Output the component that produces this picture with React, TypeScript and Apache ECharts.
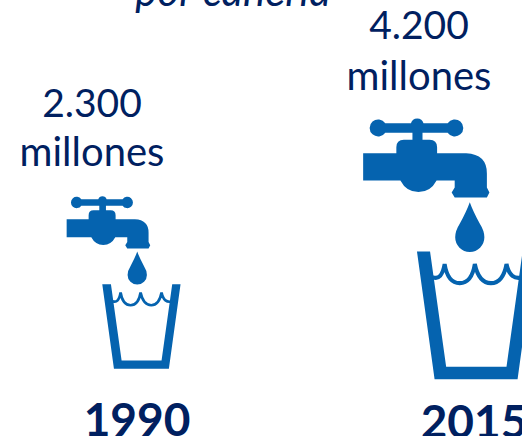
import React, { useEffect, useRef } from "react";
import * as echarts from "echarts";

const years = ["1990", "2015"];
const amounts = ["2.300", "4.200"];
const unitLabel = "millones";
const caption = "por cañería";

const tapPath =
  "M50 118 L116 118 L116 106 Q116 91 131 91 L148 91 L148 77 L94 77 A17 17 0 1 1 94 58 L145 58 A13 13 0 0 1 170 58 L218 58 A17 17 0 1 1 218 77 L168 77 L168 91 L182 91 Q197 91 197 106 L197 118 L255 118 Q296 120 296 158 L296 186 L301 196 L296 206 L232 206 L226 196 L232 186 L232 172 L196 172 Q184 195 160 195 Q136 195 124 172 L50 172 Z";
const dropPath = "M262 215 Q268 232 282 258 Q291 272 291 285 A29 29 0 0 1 233 285 Q233 272 242 258 Q256 232 262 215 Z";
const cupPath = "M157 313 L183 313 L215 542 L335 542 L367 313 L392 313 L357 567 L192 567 Z";
const wavePath =
  "M188 364 Q206 372 212 338 Q218 376 242 376 Q266 376 272 338 Q280 376 304 376 Q328 376 335 338 Q342 372 368 364";

echarts.graphic.registerShape("tapBody", echarts.graphic.extendPath(tapPath, {}));
echarts.graphic.registerShape("tapDrop", echarts.graphic.extendPath(dropPath, {}));
echarts.graphic.registerShape("tapCup", echarts.graphic.extendPath(cupPath, {}));
echarts.graphic.registerShape("tapWave", echarts.graphic.extendPath(wavePath, {}));

const NAVY = "#002060";
const BLUE = "#0563AF";
const FONT = "Lato";

function icon(x: number, y: number, s: number) {
  const common = { x, y, scaleX: s, scaleY: s };
  return [
    { type: "tapBody", ...common, style: { fill: BLUE } },
    { type: "tapDrop", ...common, style: { fill: BLUE } },
    { type: "tapCup", ...common, style: { fill: BLUE } },
    { type: "tapWave", ...common, style: { fill: "none", stroke: BLUE, lineWidth: 8 } },
  ];
}

function label(text: string, x: number, y: number, fontSize: number, extra: object = {}) {
  return {
    type: "text",
    x,
    y,
    style: { text, fill: NAVY, fontFamily: FONT, fontSize, textAlign: "center", textVerticalAlign: "middle", ...extra },
  };
}

export default function App() {
  const ref = useRef<HTMLDivElement>(null);
  useEffect(() => {
    document.body.style.margin = "0";
    const chart = echarts.init(ref.current!, null, { renderer: "svg" });
    chart.setOption({
      animation: false,
      backgroundColor: "#ffffff",
      graphic: {
        elements: [
          label(caption, 233, -10, 42, { fontStyle: "italic" }),
          label(amounts[0], 92, 102, 39),
          label(unitLabel, 92, 151, 40),
          label(amounts[1], 419, 24, 39),
          label(unitLabel, 419, 75, 40),
          ...icon(50, 180, 1 / 3),
          ...icon(338, 94, 0.503),
          label(years[0], 137, 418, 46, { fontWeight: "bold" }),
          label(years[1], 474, 420, 46, { fontWeight: "bold" }),
        ],
      },
    });
    return () => chart.dispose();
  }, []);
  return <div ref={ref} style={{ width: 522, height: 436 }} />;
}
